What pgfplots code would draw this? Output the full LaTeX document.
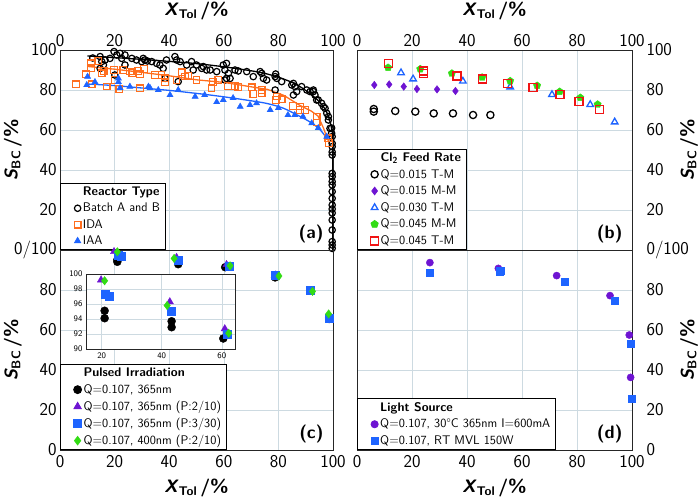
\documentclass[border=0pt]{standalone}
\usepackage{pgfplots}
\pgfplotsset{compat=1.18}
\definecolor{corange}{RGB}{255,110,30}
\definecolor{cblue}{RGB}{30,100,255}
\definecolor{cpurple}{RGB}{110,20,210}
\definecolor{cgreen}{RGB}{50,220,20}
\definecolor{cred}{RGB}{240,20,20}
\definecolor{gridc}{RGB}{205,218,225}
\newcommand{\XL}{{\bfseries\sffamily\textit{X}\textsubscript{Tol}\,/\%}}
\newcommand{\YL}{{\bfseries\sffamily\textit{S}\textsubscript{BC}\,/\%}}
\tikzset{plab/.style={font=\sffamily\bfseries\fontsize{18}{20}\selectfont, anchor=south east}}
\pgfplotsset{
  panel/.style={scale only axis, height=200pt,
    xmin=0,xmax=100,ymin=0,ymax=100,
    xtick={0,20,...,100}, ytick={0,20,...,100},
    grid=major, grid style={gridc, line width=0.6pt},
    major tick length=0pt,
    axis line style={black!85, line width=0.8pt},
    tick label style={font=\sffamily\fontsize{18}{20}\selectfont},
    /pgf/number format/assume math mode=true,
    label style={font=\sffamily\fontsize{18}{21}\selectfont},
    legend style={font=\sffamily\fontsize{12.5}{14}\selectfont, draw=black, line width=0.8pt,
      inner xsep=3pt, inner ysep=1.5pt, row sep=2.2pt, at={(0,0)}, anchor=south west},
    legend cell align=left,
    legend image code/.code={\draw[mark repeat=2,mark phase=2,##1] plot coordinates {(0cm,0cm) (0.5cm,0cm) (0.62cm,0cm)};},
  },
  leftlab/.style={ylabel style={at={(rel axis cs:0,0.5)}, anchor=center, rotate=0, yshift=47pt}},
  rightlab/.style={yticklabel pos=right, yticklabel style={xshift=11pt},
    ylabel style={at={(rel axis cs:1,0.5)}, anchor=center, rotate=0, yshift=-57pt}},
  toplab/.style={xticklabel pos=upper, xlabel style={at={(rel axis cs:0.5,1)}, anchor=center, yshift=39pt}},
  botlab/.style={xticklabel style={yshift=-2pt}, xlabel style={at={(rel axis cs:0.5,0)}, anchor=center, yshift=-38pt}},
}
\pgfplotstableread{
x y
21.0 94.1
21.0 95.1
43.3 92.9
43.3 93.7
60.5 91.4
78.8 86.3
98.6 65.5
}\Cblack
\pgfplotstableread{
x y
19.8 99.2
42.7 96.3
61.0 92.7
79.0 87.5
92.0 79.5
98.5 67.5
}\Cpurple
\pgfplotstableread{
x y
21.3 97.3
22.5 97.0
43.3 95.0
61.8 92.0
78.8 87.3
91.8 79.8
98.5 66.0
}\Cblue
\pgfplotstableread{
x y
21.0 99.1
41.8 95.8
62.3 92.1
80.2 87.0
92.5 79.3
98.4 68.0
}\Cgreen
\begin{document}
\begin{tikzpicture}
\useasboundingbox (-60pt,-51pt) rectangle (640pt,450pt);
% ---------------- panel (a)
\begin{axis}[panel, width=273pt, at={(0pt,200pt)}, anchor=south west,
  toplab, leftlab, xlabel={\XL}, ylabel={\YL},
  yticklabels={0/100,20,40,60,80,100}]
\addlegendimage{empty legend}\addlegendentry{\textbf{Reactor Type}}
\addplot[only marks, mark=o, mark size=3.2pt, black, line width=1.2pt] coordinates {
(14.7,96.7)(15.3,94.2)(15.9,92.5)(16.5,95)(18.3,95.8)(19.8,99.2)(20.8,97.5)(22,98.3)(22.6,95.8)(23.8,97.5)
(26.3,95.8)(28,95)(29.9,94.2)(31.1,95)(32,94.5)(33.6,94.2)(35.4,93.3)(37.8,90.8)(39,95)(42.1,96.7)
(42.7,95)(44,94.2)(46.4,92.5)(48.2,94.2)(48.8,90)(43.3,84.2)(20.1,87.5)(14.7,90.8)(12,96)(23.8,92.5)
(30.5,95.8)(36.6,92.5)(38.5,85.8)(52.5,91.7)(57.4,89.2)(60.4,85)
(50,92.5)(51.9,90.8)(53.7,90)(55,90)(59.8,92.5)(61,93.3)(60.4,90)(61.7,88.3)(61,85.8)(62.3,85.8)
(64.1,90)(65.3,89.5)(68.4,89.2)(70.8,86.7)(73.9,88.3)(74.5,85.8)(75.7,85)(78.8,86.7)(79.4,85.8)(78.8,80)
(79,88)(73.3,89.2)(81.2,84.2)(84.9,82.5)(86.1,81.7)(85.5,77.5)(85.5,83.3)(86.7,79.2)(88.5,81.7)(90.4,80)
(91.6,79.2)(92.8,80)(92.8,79.2)(93.4,77.5)(94.6,75)(94,75)(95.8,73.4)(96.5,71.7)(97.1,70.8)(97.7,68.4)
(98.3,66.7)(98.3,65)(98.9,60.8)(99.5,58.4)(99.5,61)
(99.7,56.7)(99.7,53.3)(99.7,51.7)(99.7,49)(99.7,47.5)(99.7,38.3)(99.7,36.7)(99.7,34.2)(99.7,32.5)(99.7,29.2)
(99.7,25.8)(99.7,22.5)(99.7,20.5)(99.7,18.5)(99.7,15)(99.7,10)(99.7,4.2)(99.7,2.5)(99.7,0.8)
};
\addlegendentry{Batch A and B}
\addplot[only marks, mark=square, mark size=3.3pt, corange, line width=1.2pt] coordinates {
(5.9,82.8)(9.5,87.8)(11.4,93.3)(11.4,90.8)(14,94.5)(11.6,82.8)(15.3,88.3)(16,89.5)(17.1,81.7)(19.8,90)
(20.1,85)(21.7,80.5)(23.2,90)(25.6,89.2)(26.5,88.5)(28.7,89.5)(29.3,87.8)(29.3,80.8)(30.8,90.5)(34.8,87.5)
(37.2,87.5)(38.5,85.8)(38.5,83.8)(42.7,85)(44.6,88.8)(45.8,86.7)(47,87)(50,85)(56,84)(55.5,80.8)
(58,85)(61.5,82)(64,82)(65.3,81.5)(70.2,81.3)(70.8,78)(73.9,78.3)(73.9,80)(79.4,76.7)(79,75)
(81.2,75.3)(85.4,72)(87.9,71.7)(87.9,70)(89.7,70)(94,66.7)(94,63.7)(98.3,55.8)(98.6,53.5)
};
\addlegendentry{IDA}
\addplot[only marks, mark=triangle*, mark size=3.6pt, cblue] coordinates {
(9.8,82.5)(10.1,86.7)(12.8,84)(21.4,84)(21.4,85.8)(22,81)(25.6,81.7)(32.4,81.7)(33,81)(36,80)(40.3,77.5)
(43.3,80)(49.5,76.7)(53,77.5)(57.4,74)(59.8,75)(63.4,76)(66,71.7)(69.6,72.5)(72,73.4)(77,70)
(80,71)(83.5,67.5)(86,67.5)(89,66.7)(92.2,63.4)(94.6,61)(97.7,56.7)
};
\addlegendentry{IAA}
\addplot[forget plot, black, line width=1.3pt, smooth] coordinates {
(10,97)(20,96.2)(30,95.3)(40,94.3)(50,93.2)(60,91.6)(70,89.6)(75,88.3)(80,86.4)(85,83.8)(88,81.6)(91,78.8)(94,75.5)(96,72.5)(97.5,69.5)(98.5,66)(99.3,62)(100,57)};
\addplot[forget plot, black, line width=1.3pt] coordinates {(100,57)(100,0)};
\addplot[forget plot, corange, line width=1.3pt] coordinates {
(10,91.8)(20,90.4)(30,88.8)(40,87.1)(50,85.1)(60,83.8)(70,81.6)(76,80.3)(82,77.3)(88,72.2)(92,69.5)(94.5,67)(96.5,61)(98,55.5)(98.8,53)};
\addplot[forget plot, cblue, line width=1.3pt, smooth] coordinates {
(10,83)(20,82.2)(30,81)(40,79.8)(50,78.3)(60,76.6)(70,74.6)(76,73.2)(82,70.8)(88,66.7)(91,64.5)(94,61.7)(96,59)(97.7,55.8)};
\node[plab] at (rel axis cs:1,0) [xshift=-6pt, yshift=3pt] {(a)};
\end{axis}
% ---------------- panel (b)
\begin{axis}[panel, width=275pt, at={(297pt,200pt)}, anchor=south west,
  toplab, rightlab, xlabel={\XL}, ylabel={\YL},
  yticklabels={0/100,20,40,60,80,100}]
\addlegendimage{empty legend}\addlegendentry{\textbf{Cl\textsubscript{2} Feed Rate}}
\addplot[only marks, mark=o, mark size=3.6pt, black, line width=1.3pt] coordinates {
(6.1,70.5)(6.1,69.2)(13.9,69.5)(21.2,69.2)(27.9,68.3)(34.9,68.3)(42.2,67.5)(48.5,67.5)};
\addlegendentry{Q=0.015 T-M}
\addplot[only marks, mark=diamond*, mark size=3.8pt, cpurple] coordinates {
(6.3,82.5)(11.7,82.8)(17,81.7)(21.8,80.5)(29.1,80.3)(35.8,79.5)};
\addlegendentry{Q=0.015 M-M}
\addplot[only marks, mark=triangle, mark size=3.8pt, cblue, line width=1.3pt] coordinates {
(16,88.6)(20.4,85.5)(38.5,84.4)(55.7,81.5)(70.9,77.7)(84.8,72.7)(93.7,64)};
\addlegendentry{Q=0.030 T-M}
\addplot[only marks, mark=pentagon*, mark size=3.8pt, cgreen] coordinates {
(11.3,91.2)(23,90.5)(34.5,88.3)(45.5,86.3)(55.7,84.5)(65.5,82.2)(73.7,79.2)(81.2,76.2)(87.5,72.8)};
\addlegendentry{Q=0.045 M-M}
\addplot[only marks, mark=square, mark size=4pt, cred, line width=1.5pt] coordinates {
(11.5,93.3)(24.2,88.3)(24.2,89.5)(36.4,87)(45.7,85.5)(54.8,83.3)(64,81.2)(73.9,77.8)(80.8,74.2)(88.2,70.3)};
\addlegendentry{Q=0.045 T-M}
\node[plab] at (rel axis cs:1,0) [xshift=-6pt, yshift=3pt] {(b)};
\end{axis}
% ---------------- panel (c)
\begin{axis}[panel, width=273pt, at={(0pt,0pt)}, anchor=south west,
  botlab, leftlab, xlabel={\XL}, ylabel={\YL}, ytick={0,20,...,80}]
\addlegendimage{empty legend}\addlegendentry{\textbf{Pulsed Irradiation}}
\addplot[only marks, mark=*, mark size=4pt, black] table {\Cblack};
\addlegendentry{Q=0.107, 365nm}
\addplot[only marks, mark=triangle*, mark size=4.2pt, cpurple] table {\Cpurple};
\addlegendentry{Q=0.107, 365nm (P:2/10)}
\addplot[only marks, mark=square*, mark size=4pt, cblue] table {\Cblue};
\addlegendentry{Q=0.107, 365nm (P:3/30)}
\addplot[only marks, mark=diamond*, mark size=4.2pt, cgreen] table {\Cgreen};
\addlegendentry{Q=0.107, 400nm (P:2/10)}
\node[plab] at (rel axis cs:1,0) [xshift=-6pt, yshift=3pt] {(c)};
\end{axis}
% ---------------- inset
\begin{axis}[scale only axis, width=149pt, height=75pt, at={(26pt,101pt)}, anchor=south west,
  xmin=14.8, xmax=64.4, ymin=90, ymax=100,
  xtick={20,40,60}, ytick={90,92,...,100},
  grid=major, grid style={gridc, line width=0.5pt}, major tick length=0pt,
  axis background/.style={fill=white},
  axis line style={black!85, line width=0.7pt},
  tick label style={font=\sffamily\fontsize{8.5}{10}\selectfont},
  /pgf/number format/assume math mode=true]
\addplot[only marks, mark=*, mark size=4pt, black] table {\Cblack};
\addplot[only marks, mark=triangle*, mark size=4.2pt, cpurple] table {\Cpurple};
\addplot[only marks, mark=square*, mark size=4pt, cblue] table {\Cblue};
\addplot[only marks, mark=diamond*, mark size=4.2pt, cgreen] table {\Cgreen};
\end{axis}
% ---------------- panel (d)
\begin{axis}[panel, width=275pt, at={(297pt,0pt)}, anchor=south west,
  botlab, rightlab, xlabel={\XL}, ylabel={\YL}, ytick={0,20,...,80}]
\addlegendimage{empty legend}\addlegendentry{\textbf{Light Source}}
\addplot[only marks, mark=*, mark size=3.6pt, cpurple] coordinates {
(26.5,93.7)(51.4,90.8)(72.6,87.2)(92,77.2)(99,57.5)(99.5,36.3)};
\addlegendentry{Q=0.107, 30\textdegree C 365nm I=600mA}
\addplot[only marks, mark=square*, mark size=3.6pt, cblue] coordinates {
(26.5,88.8)(51.8,89.2)(52.1,89.8)(75.6,84.2)(93.8,74.5)(99.5,53)(99.8,25.8)};
\addlegendentry{Q=0.107, RT MVL 150W}
\node[plab] at (rel axis cs:1,0) [xshift=-6pt, yshift=3pt] {(d)};
\end{axis}
\end{tikzpicture}
\end{document}
